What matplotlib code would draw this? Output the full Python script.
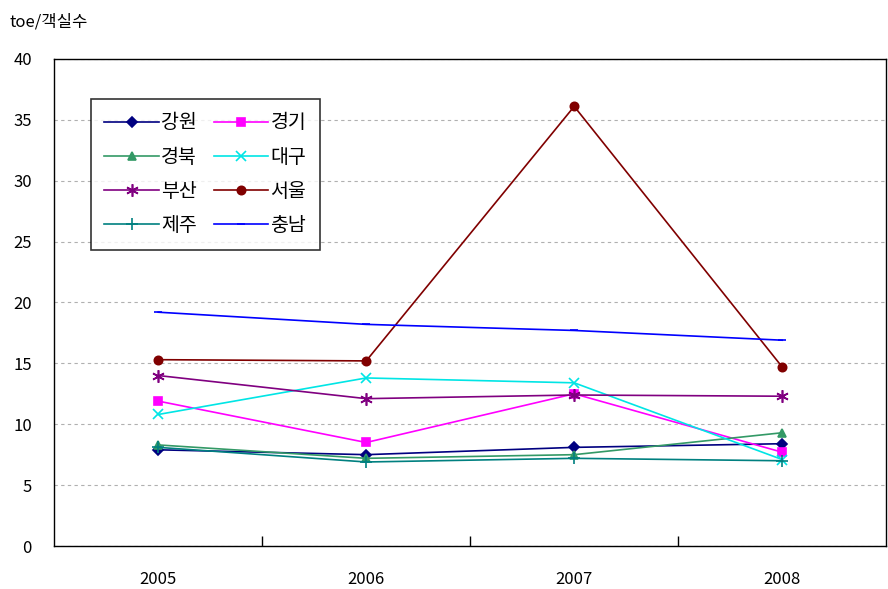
import numpy as np
import matplotlib.pyplot as plt

plt.rcParams['font.family'] = ['Noto Sans CJK KR', 'DejaVu Sans']

# 연도별 지역 데이터 (toe/객실수)
years = ['2005', '2006', '2007', '2008']
gangwon = [7.9, 7.5, 8.1, 8.4]
gyeonggi = [11.9, 8.5, 12.5, 7.7]
gyeongbuk = [8.3, 7.2, 7.5, 9.3]
daegu = [10.8, 13.8, 13.4, 7.1]
busan = [14.0, 12.1, 12.4, 12.3]
seoul = [15.3, 15.2, 36.1, 14.7]
jeju = [8.1, 6.9, 7.2, 7.0]
chungnam = [19.2, 18.2, 17.7, 16.9]

series = [
    ('강원', gangwon, '#000080', 'D', 5),
    ('경기', gyeonggi, '#FF00FF', 's', 6),
    ('경북', gyeongbuk, '#339966', '^', 6),
    ('대구', daegu, '#00E5E5', 'x', 7),
    ('부산', busan, '#800080', (6, 2, 0), 9),
    ('서울', seoul, '#800000', 'o', 6),
    ('제주', jeju, '#008080', '+', 9),
    ('충남', chungnam, '#0000FF', '_', 6),
]

fig = plt.figure(figsize=(8.88, 5.89), dpi=100)
ax = fig.add_axes([0.061, 0.073, 0.937, 0.827])
x = np.arange(len(years))

handles = {}
for name, vals, color, marker, ms in series:
    h, = ax.plot(x, vals, color=color, marker=marker, markersize=ms,
                 linewidth=1.2, markeredgewidth=1.2, label=name)
    handles[name] = h

ax.set_xlim(-0.5, 3.5)
ax.set_ylim(0, 40)
ax.set_yticks(np.arange(0, 41, 5))
ax.set_xticks(x)
ax.set_xticklabels(years)
ax.set_xticks([0.5, 1.5, 2.5], minor=True)
ax.tick_params(axis='x', which='major', length=0, pad=18, labelsize=12)
ax.tick_params(axis='x', which='minor', direction='in', length=7, width=1, color='black')
ax.tick_params(axis='y', length=0, pad=16, labelsize=12)
ax.yaxis.grid(True, linestyle=(0, (3, 3)), color='#b0b0b0', linewidth=0.8)
for s in ax.spines.values():
    s.set_color('black')
    s.set_linewidth(1)

# 범례는 행 순서대로 채우기 위해 열 기준으로 재배열
order = ['강원', '경북', '부산', '제주', '경기', '대구', '서울', '충남']
leg = ax.legend([handles[n] for n in order], order, ncol=2, loc='upper left',
                bbox_to_anchor=(0.044, 0.918), borderaxespad=0, fontsize=14,
                frameon=True, fancybox=False, edgecolor='black',
                handlelength=2.8, handletextpad=0.1, columnspacing=0.9,
                labelspacing=0.68, borderpad=0.7)
leg.get_frame().set_linewidth(1.2)

fig.text(0.011, 0.962, 'toe/객실수', fontsize=12, va='center', ha='left')

fig.savefig('out.png', dpi=100)
